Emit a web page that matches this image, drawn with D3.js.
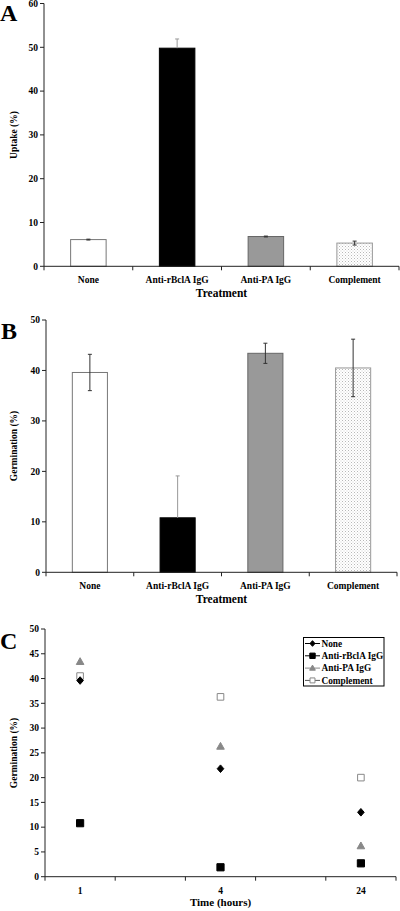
<!DOCTYPE html>
<html><head><meta charset="utf-8">
<script src="https://cdn.jsdelivr.net/npm/d3@7"></script>
<style>
body{margin:0;background:#fff}
svg{display:block}
text{font-family:"Liberation Serif","Times New Roman",serif;font-weight:bold;fill:#000}
</style>
</head><body>
<svg id="c" width="400" height="911"></svg>
<script>
// ---- data ----
const treatments = ["None", "Anti-rBclA IgG", "Anti-PA IgG", "Complement"];
const uptake = [6.1, 49.8, 6.8, 5.3];
const uptakeErr = [0.1, 2.1, 0.1, 0.45];
const germination = [39.6, 10.8, 43.4, 40.5];
const germinationErr = [3.6, 8.3, 2.0, 5.7];
const uptakeTicks = [0, 10, 20, 30, 40, 50, 60];
const germTicks = [0, 10, 20, 30, 40, 50];
const times = ["1", "4", "24"];
const timeSlots = ["1", "s1", "4", "s3", "24"];
const tcTicks = [0, 5, 10, 15, 20, 25, 30, 35, 40, 45, 50];
const seriesNames = ["None", "Anti-rBclA IgG", "Anti-PA IgG", "Complement"];
const sNone = [39.6, 21.8, 13.0];
const sBclA = [10.8, 1.9, 2.7];
const sPA = [43.4, 26.3, 6.2];
const sComp = [40.5, 36.3, 20.0];

const svg = d3.select("#c");
const defs = svg.append("defs");
const pat = defs.append("pattern").attr("id", "dots").attr("width", 3).attr("height", 3)
  .attr("patternUnits", "userSpaceOnUse");
pat.append("rect").attr("width", 3).attr("height", 3).attr("fill", "#fff");
pat.append("rect").attr("x", 0).attr("y", 0).attr("width", 1).attr("height", 1).attr("fill", "#b8b8b8");
pat.append("rect").attr("x", 1.5).attr("y", 1.5).attr("width", 1).attr("height", 1).attr("fill", "#d0d0d0");

const barStyles = [
  {fill: "#fff", stroke: "#777"},
  {fill: "#000", stroke: "#000"},
  {fill: "#999", stroke: "#666"},
  {fill: "url(#dots)", stroke: "#999"}
];

function barPanel(o) {
  const g = svg.append("g");
  const x = d3.scaleBand().domain(treatments).range([o.x0, o.x1]).padding(0);
  const y = d3.scaleLinear().domain([0, o.max]).range([o.y0, o.y1]);
  const bw = x.bandwidth() * 0.4;
  treatments.forEach((t, i) => {
    const cx = x(t) + x.bandwidth() / 2;
    const v = o.vals[i], e = o.errs[i];
    g.append("rect").attr("x", cx - bw / 2).attr("width", bw).attr("y", y(v)).attr("height", y(0) - y(v))
      .attr("fill", barStyles[i].fill).attr("stroke", barStyles[i].stroke).attr("stroke-width", 1);
    const col = i === 1 ? "#999" : "#333";
    const lo = i === 1 ? v : v - e;
    g.append("line").attr("x1", cx).attr("x2", cx).attr("y1", y(v + e)).attr("y2", y(lo))
      .attr("stroke", col).attr("stroke-width", 1);
    g.append("line").attr("x1", cx - 2).attr("x2", cx + 2).attr("y1", y(v + e)).attr("y2", y(v + e))
      .attr("stroke", col);
    if (i !== 1) g.append("line").attr("x1", cx - 2).attr("x2", cx + 2).attr("y1", y(lo)).attr("y2", y(lo))
      .attr("stroke", col);
  });
  g.append("line").attr("x1", o.x0).attr("x2", o.x0).attr("y1", y(0)).attr("y2", y(o.max)).attr("stroke", "#222");
  o.ticks.forEach(t => {
    g.append("line").attr("x1", o.x0 - 4).attr("x2", o.x0).attr("y1", y(t)).attr("y2", y(t)).attr("stroke", "#222");
    g.append("text").attr("x", o.x0 - 6).attr("y", y(t)).attr("dy", "0.35em").attr("text-anchor", "end")
      .attr("font-size", 9.5).text(t);
  });
  g.append("line").attr("x1", o.x0).attr("x2", o.x1).attr("y1", y(0)).attr("y2", y(0)).attr("stroke", "#222");
  const edges = treatments.map(t => x(t)).concat([o.x1]);
  edges.forEach(ex => g.append("line").attr("x1", ex).attr("x2", ex).attr("y1", y(0)).attr("y2", y(0) + 4).attr("stroke", "#222"));
  treatments.forEach(t => g.append("text").attr("x", x(t) + x.bandwidth() / 2).attr("y", y(0) + 17)
    .attr("text-anchor", "middle").attr("font-size", 9.5).text(t));
  g.append("text").attr("x", (o.x0 + o.x1) / 2).attr("y", y(0) + 31).attr("text-anchor", "middle")
    .attr("font-size", 11.5).text(o.xTitle);
  g.append("text").attr("transform", `translate(${o.ytx},${o.yty}) rotate(-90)`).attr("text-anchor", "middle")
    .attr("font-size", 9.5).text(o.yTitle);
  g.append("text").attr("x", o.lx).attr("y", o.ly).attr("font-size", 24).text(o.letter);
}

barPanel({x0: 44, x1: 399, y0: 266.3, y1: 3.5, max: 60, vals: uptake, errs: uptakeErr, ticks: uptakeTicks,
  xTitle: "Treatment", yTitle: "Uptake (%)", ytx: 17, yty: 135, letter: "A", lx: 0, ly: 21});
barPanel({x0: 46, x1: 397, y0: 572.3, y1: 320, max: 50, vals: germination, errs: germinationErr, ticks: germTicks,
  xTitle: "Treatment", yTitle: "Germination (%)", ytx: 17, yty: 446, letter: "B", lx: 1, ly: 339});

// ---- Panel C ----
(function () {
  const g = svg.append("g");
  const x0 = 45, x1 = 396;
  const x = d3.scaleBand().domain(timeSlots).range([x0, x1]).padding(0);
  const y = d3.scaleLinear().domain([0, 50]).range([876.7, 629]);
  const cx = t => x(t) + x.bandwidth() / 2;
  g.append("line").attr("x1", x0).attr("x2", x0).attr("y1", y(0)).attr("y2", y(50)).attr("stroke", "#222");
  tcTicks.forEach(t => {
    g.append("line").attr("x1", x0 - 4).attr("x2", x0).attr("y1", y(t)).attr("y2", y(t)).attr("stroke", "#222");
    g.append("text").attr("x", x0 - 6).attr("y", y(t)).attr("dy", "0.35em").attr("text-anchor", "end")
      .attr("font-size", 9.5).text(t);
  });
  g.append("line").attr("x1", x0).attr("x2", x1).attr("y1", y(0)).attr("y2", y(0)).attr("stroke", "#222");
  timeSlots.map(s => x(s)).concat([x1]).forEach(ex =>
    g.append("line").attr("x1", ex).attr("x2", ex).attr("y1", y(0)).attr("y2", y(0) + 4).attr("stroke", "#222"));
  times.forEach(t => g.append("text").attr("x", cx(t)).attr("y", y(0) + 17).attr("text-anchor", "middle")
    .attr("font-size", 9.5).text(t));
  g.append("text").attr("x", (x0 + x1) / 2).attr("y", 906).attr("text-anchor", "middle").attr("font-size", 11).text("Time (hours)");
  g.append("text").attr("transform", "translate(17,753) rotate(-90)").attr("text-anchor", "middle")
    .attr("font-size", 9.5).text("Germination (%)");
  g.append("text").attr("x", 0).attr("y", 649).attr("font-size", 24).text("C");

  const diamond = (s) => `M0,${-3.8 * s}L${3.3 * s},0L0,${3.8 * s}L${-3.3 * s},0Z`;
  const square = (h) => `M${-h},${-h}H${h}V${h}H${-h}Z`;
  const tri = (s) => `M0,${-4 * s}L${3.8 * s},${2.8 * s}L${-3.8 * s},${2.8 * s}Z`;
  const series = [
    {vals: sNone, path: diamond, k: 1, fill: "#000", stroke: "#000", line: "#000"},
    {vals: sBclA, path: square, k: 3.6, fill: "#000", stroke: "#000", line: "#000"},
    {vals: sPA, path: tri, k: 1, fill: "#888", stroke: "#888", line: "#888"},
    {vals: sComp, path: square, k: 3.3, fill: "#fff", stroke: "#888", line: "#555"}
  ];
  [3, 2, 0, 1].forEach(si => {
    const s = series[si];
    times.forEach((t, i) => {
      g.append("path").attr("d", s.path(s.k))
        .attr("transform", `translate(${cx(t)},${y(s.vals[i])})`)
        .attr("fill", s.fill).attr("stroke", s.stroke).attr("stroke-width", 1);
    });
  });
  const lg = g.append("g");
  lg.append("rect").attr("x", 303.5).attr("y", 637.5).attr("width", 80.5).attr("height", 48.5)
    .attr("fill", "#fff").attr("stroke", "#000").attr("stroke-width", 1);
  seriesNames.forEach((n, i) => {
    const ly = 643.5 + i * 12.3;
    const s = series[i];
    lg.append("line").attr("x1", 305).attr("x2", 320).attr("y1", ly).attr("y2", ly).attr("stroke", s.line).attr("stroke-width", 1);
    lg.append("path").attr("d", s.path(s.k * 0.75))
      .attr("transform", `translate(312.5,${ly})`).attr("fill", s.fill).attr("stroke", s.stroke);
    lg.append("text").attr("x", 321.5).attr("y", ly).attr("dy", "0.35em").attr("font-size", 9.3).text(n);
  });
})();
</script>
</body></html>
